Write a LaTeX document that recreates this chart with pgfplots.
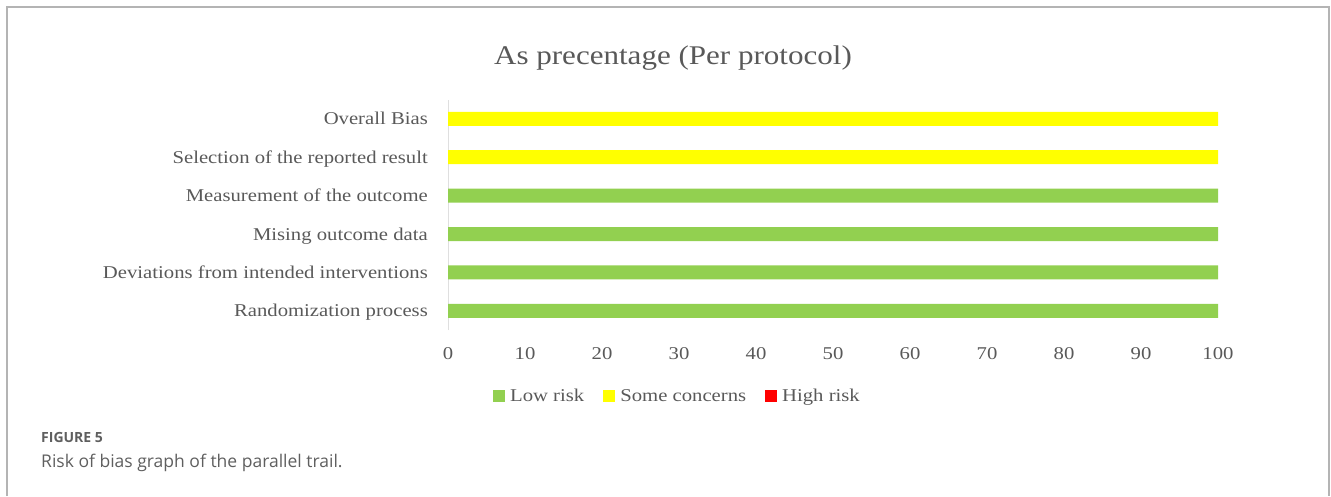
\documentclass[border=0pt]{standalone}
\usepackage{fontspec}
\setmainfont[FakeStretch=1.15]{Liberation Serif}
\newfontfamily\capfont{Open Sans}
\usepackage{pgfplots}
\pgfplotsset{compat=1.18}
\definecolor{lowrisk}{HTML}{92D050}
\definecolor{somecon}{HTML}{FFFF00}
\definecolor{highrisk}{HTML}{FF0000}
\definecolor{txt}{HTML}{595959}
\definecolor{frame}{HTML}{B4B4B4}
\definecolor{captxt}{HTML}{5F5F5F}
\begin{document}
\begin{tikzpicture}[x=1pt,y=1pt]
\path[use as bounding box] (0,0) rectangle (1331,496);
% panel frame
\draw[frame,line width=2pt] (6.5,0) -- (6.5,489) -- (1329,489) -- (1329,0);
% chart title
\node[txt,font=\fontsize{27}{30}\selectfont] at (673,438) {As precentage (Per protocol)};
\begin{axis}[
  at={(448pt,166pt)}, anchor=south west,
  scale only axis, width=770pt, height=230.4pt,
  xbar stacked, bar width=14pt,
  xmin=0, xmax=100, ymin=-0.5, ymax=5.5,
  axis lines*=left,
  x axis line style={draw=none},
  y axis line style={draw=gray!25, line width=1pt},
  major tick style={draw=none},
  xtick={0,10,...,100},
  ytick={0,...,5},
  yticklabels={Randomization process, Deviations from intended interventions,
    Mising outcome data, Measurement of the outcome,
    Selection of the reported result, Overall Bias},
  tick label style={txt, font=\fontsize{18}{21}\selectfont},
  /pgf/number format/assume math mode=true,
  yticklabel style={anchor=base east, inner sep=0pt, xshift=-20pt, yshift=-6pt},
  xticklabel style={anchor=center, inner sep=0pt, yshift=-24pt},
  legend columns=3,
  legend style={at={(0.298,-0.286)}, anchor=center, draw=none, fill=none,
    text=txt, font=\fontsize{18}{21}\selectfont,
    /tikz/every odd column/.append style={column sep=3pt},
    /tikz/every even column/.append style={column sep=17pt}},
  legend cell align=left,
  legend image code/.code={\fill[#1] (0pt,-6pt) rectangle (12pt,6pt);},
]
\addplot[fill=lowrisk, draw=none] coordinates {(100,0) (100,1) (100,2) (100,3) (0,4) (0,5)};
\addplot[fill=somecon, draw=none] coordinates {(0,0) (0,1) (0,2) (0,3) (100,4) (100,5)};
\addplot[fill=highrisk, draw=none] coordinates {(0,0) (0,1) (0,2) (0,3) (0,4) (0,5)};
\legend{Low risk, Some concerns, High risk}
\end{axis}
% figure caption
\node[anchor=base west, inner sep=0pt, captxt, font=\capfont\bfseries\fontsize{14}{16}\selectfont] at (41,54) {FIGURE 5};
\node[anchor=base west, inner sep=0pt, captxt, font=\capfont\fontsize{17.5}{20}\selectfont] at (41,29) {Risk of bias graph of the parallel trail.};
\end{tikzpicture}
\end{document}
